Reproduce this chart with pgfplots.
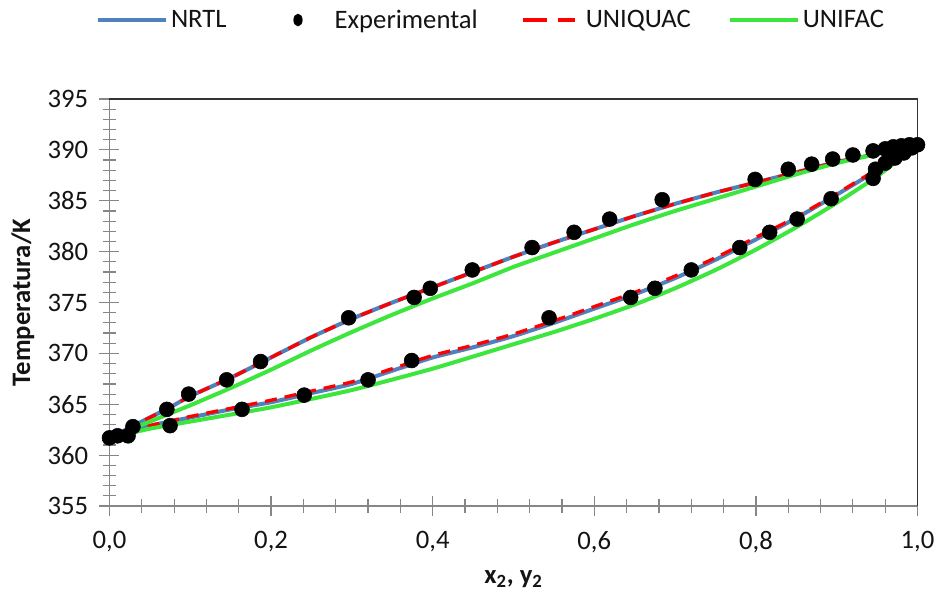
\documentclass[border=0pt]{standalone}
\usepackage{pgfplots}
\pgfplotsset{compat=1.18}
\usepackage{fontspec}
\setmainfont{Carlito}
\definecolor{nrtl}{RGB}{79,129,189}
\definecolor{unifac}{RGB}{60,230,60}
\definecolor{axgray}{RGB}{134,134,134}
\definecolor{txt}{RGB}{20,20,20}
\begin{document}
\begin{tikzpicture}[font=\fontsize{20}{24}\selectfont]
\path[use as bounding box] (-82.1pt,-64.5pt) rectangle (622.1pt,379.5pt);
\begin{axis}[
  at={(0,0)}, anchor=south west,
  scale only axis, width=606pt, height=305.25pt,
  xmin=0, xmax=1, ymin=355, ymax=395,
  axis x line*=bottom, axis y line*=left,
  axis line style={draw=axgray, line width=0.9pt, -},
  xtick distance=0.2, ytick distance=5,
  minor x tick num=4, minor y tick num=4,
  tick align=center,
  major tick length=15pt, minor tick length=10pt,
  every tick/.style={draw=axgray, line width=0.9pt},
  every minor tick/.style={draw=axgray, line width=0.9pt},
  /pgf/number format/assume math mode=true,
  xticklabel style={/pgf/number format/.cd, fixed, fixed zerofill, precision=1, use comma, /tikz/.cd, yshift=-8pt},
  yticklabel style={/pgf/number format/.cd, fixed, precision=0, /tikz/.cd, xshift=-5pt},
  ticklabel style={text=txt, font=\fontsize{20}{24}\selectfont},
  xlabel={\bfseries x\textsubscript{2}, y\textsubscript{2}},
  ylabel={\bfseries Temperatura/K},
  xlabel style={yshift=-6pt},
  ylabel style={yshift=3pt},
  label style={text=txt},
  legend columns=4,
  legend style={at={(0.4728,1.194)}, anchor=center, draw=none, fill=none,
    font=\fontsize{20}{24}\selectfont, text=txt,
    /tikz/every even column/.append style={column sep=26pt}},
  clip=false,
]
% frame top and right
\draw[black!80, line width=0.9pt] (rel axis cs:0,1) -- (rel axis cs:1,1) -- (rel axis cs:1,0);

% NRTL
\addplot[nrtl, line width=3pt, smooth, tension=0.3, forget plot] coordinates {
(0,361.7) (0.025,362.7) (0.05,363.7) (0.075,364.7) (0.1,365.8) (0.15,367.6) (0.2,369.6) (0.25,371.6) (0.3,373.4) (0.35,375.0) (0.4,376.5) (0.45,378.0) (0.5,379.5) (0.55,380.9) (0.6,382.2) (0.65,383.5) (0.7,384.7) (0.75,385.8) (0.8,386.8) (0.85,387.8) (0.9,388.8) (0.95,389.6) (1,390.5)};
\addplot[nrtl, line width=3pt, smooth, tension=0.3, forget plot] coordinates {
(0,361.7) (0.025,362.4) (0.05,362.9) (0.1,363.7) (0.15,364.5) (0.2,365.2) (0.25,366.1) (0.3,367.0) (0.35,368.3) (0.4,369.6) (0.45,370.6) (0.5,371.7) (0.55,373.0) (0.6,374.4) (0.65,375.8) (0.7,377.4) (0.75,379.2) (0.8,381.2) (0.85,383.3) (0.9,385.6) (0.95,388.0) (1,390.5)};
% UNIQUAC
\addplot[red, line width=2.5pt, dash pattern=on 9pt off 6pt, smooth, tension=0.3, forget plot] coordinates {
(0,361.7) (0.025,362.7) (0.05,363.7) (0.075,364.7) (0.1,365.8) (0.15,367.6) (0.2,369.6) (0.25,371.6) (0.3,373.4) (0.35,375.0) (0.4,376.5) (0.45,378.0) (0.5,379.5) (0.55,380.9) (0.6,382.2) (0.65,383.5) (0.7,384.7) (0.75,385.8) (0.8,386.8) (0.85,387.8) (0.9,388.8) (0.95,389.6) (1,390.5)};
\addplot[red, line width=2.5pt, dash pattern=on 9pt off 6pt, smooth, tension=0.3, forget plot] coordinates {
(0,361.7) (0.025,362.4) (0.05,362.9) (0.1,363.8) (0.15,364.6) (0.2,365.4) (0.25,366.3) (0.3,367.2) (0.35,368.5) (0.4,369.8) (0.45,370.8) (0.5,371.9) (0.55,373.2) (0.6,374.6) (0.65,376.0) (0.7,377.6) (0.75,379.4) (0.8,381.4) (0.85,383.4) (0.9,385.7) (0.95,388.1) (1,390.5)};
% UNIFAC
\addplot[unifac, line width=3pt, smooth, tension=0.3, forget plot] coordinates {
(0,361.7) (0.025,362.5) (0.05,363.3) (0.1,364.9) (0.15,366.6) (0.2,368.4) (0.25,370.3) (0.3,372.1) (0.35,373.8) (0.4,375.4) (0.45,376.9) (0.5,378.5) (0.55,379.9) (0.6,381.3) (0.65,382.7) (0.7,384.0) (0.75,385.2) (0.8,386.4) (0.85,387.6) (0.9,388.7) (0.95,389.6) (1,390.5)};
\addplot[unifac, line width=3pt, smooth, tension=0.3, forget plot] coordinates {
(0,361.7) (0.05,362.6) (0.1,363.3) (0.2,364.7) (0.3,366.4) (0.4,368.5) (0.5,370.9) (0.55,372.1) (0.6,373.4) (0.65,374.8) (0.7,376.4) (0.75,378.2) (0.8,380.2) (0.85,382.4) (0.9,384.8) (0.95,387.4) (1,390.5)};
% Experimental
\addplot[only marks, mark=*, mark size=5.6pt, black, forget plot] coordinates {
(0,361.7) (0.01,361.9) (0.023,361.9) (0.075,362.9) (0.164,364.5) (0.241,365.9) (0.32,367.4) (0.374,369.3) (0.544,373.5) (0.645,375.5) (0.675,376.4) (0.72,378.2) (0.78,380.4) (0.817,381.9) (0.851,383.2) (0.893,385.2) (0.945,387.2) (0.948,388.1) (0.96,388.7) (0.972,389.2) (0.983,389.7) (0.993,390.2) (1,390.5)
(0.029,362.8) (0.071,364.5) (0.098,366.0) (0.145,367.4) (0.187,369.2) (0.296,373.5) (0.377,375.5) (0.397,376.4) (0.449,378.2) (0.523,380.4) (0.575,381.9) (0.619,383.2) (0.684,385.1) (0.799,387.1) (0.84,388.1) (0.869,388.6) (0.895,389.1) (0.92,389.5) (0.945,389.9) (0.96,390.1) (0.97,390.3) (0.98,390.4) (0.99,390.5)};

% legend
\addlegendimage{legend image code/.code={\draw[nrtl, line width=3pt] (0pt,0pt) -- (51pt,0pt);}}
\addlegendentry{NRTL}
\addlegendimage{legend image code/.code={\path[draw=none] (0pt,0pt) -- (51pt,0pt); \fill[black] (25.5pt,0pt) ellipse (3.2pt and 4.5pt);}}
\addlegendentry{Experimental}
\addlegendimage{legend image code/.code={\path[draw=none] (0pt,0pt) -- (51pt,0pt); \draw[red, line width=3pt, dash pattern=on 18pt off 8pt] (6pt,0pt) -- (45pt,0pt);}}
\addlegendentry{UNIQUAC}
\addlegendimage{legend image code/.code={\draw[unifac, line width=3pt] (0pt,0pt) -- (51pt,0pt);}}
\addlegendentry{UNIFAC}
\end{axis}
\end{tikzpicture}
\end{document}
